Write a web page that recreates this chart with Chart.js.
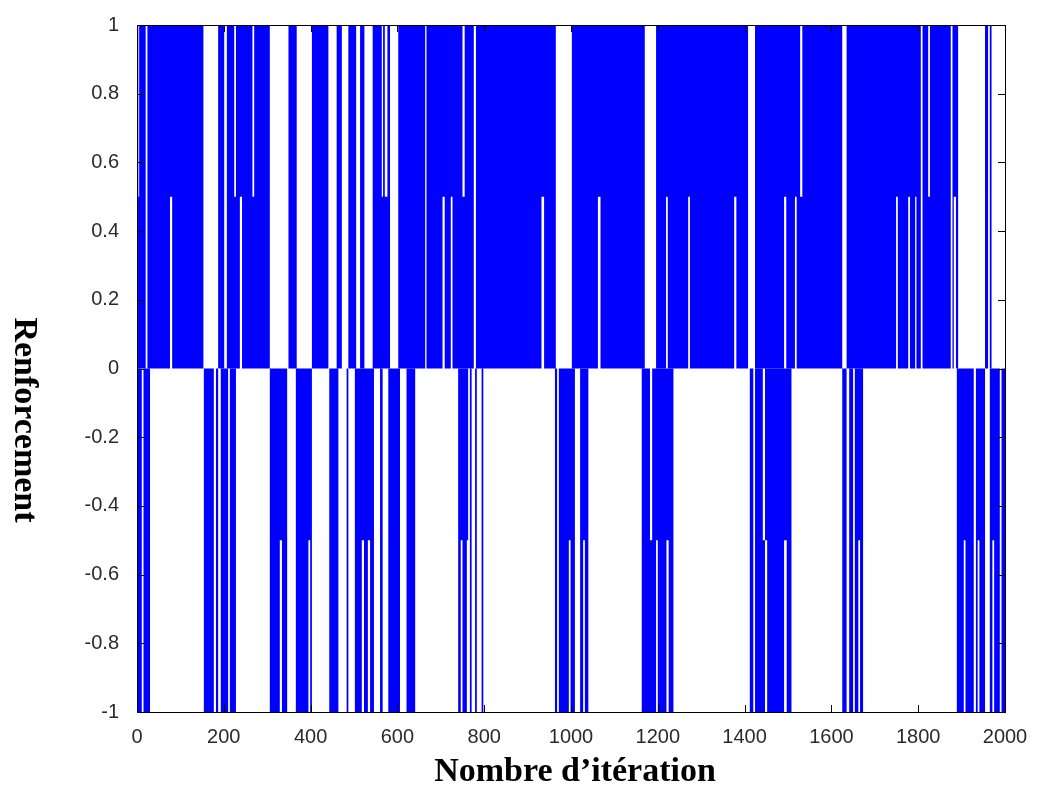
<!DOCTYPE html>
<html>
<head>
<meta charset="utf-8">
<script src="https://cdn.jsdelivr.net/npm/chart.js@4"></script>
<style>
  html, body { margin: 0; background: #fff; }
</style>
</head>
<body>
<canvas id="chart" width="1037" height="804"></canvas>
<script>
// partie haute (0 .. 1) : début de chaque palier, bord supérieur et inférieur de la zone bleue
const hautDebut = [0, 3, 5, 20, 24, 76, 81, 153, 187, 201, 207, 224, 228, 237, 242, 266, 270, 306, 349, 368,
  403, 441, 460, 472, 487, 505, 514, 524, 543, 564, 567, 571, 577, 583, 602, 664, 667, 704, 709, 723,
  727, 750, 755, 776, 781, 932, 938, 965, 1002, 1062, 1068, 1170, 1196, 1219, 1223, 1270, 1274, 1376, 1381, 1408,
  1424, 1491, 1496, 1516, 1520, 1528, 1533, 1625, 1635, 1749, 1753, 1777, 1781, 1793, 1796, 1806, 1810, 1823, 1827, 1875,
  1879, 1882, 1887, 1892, 1954, 1961, 1965, 1969]
const hautSup = [1, 0.5, 1, 0, 1, 1, 1, 0, 1, 0, 1, 0.5, 1, 1, 1, 0.5, 1, 0, 1, 0,
  1, 0, 1, 0, 1, 0, 1, 0, 1, 0.5, 1, 0.5, 1, 0, 1, 0, 1, 1, 1, 1,
  1, 0.5, 1, 0, 1, 1, 1, 0, 1, 1, 1, 0, 1, 1, 1, 1, 1, 1, 1, 0,
  1, 1, 1, 1, 1, 0.5, 1, 0, 1, 1, 1, 1, 1, 1, 1, 0, 1, 0.5, 1, 0,
  1, 1, 1, 0, 1, 0, 1, 0]
const hautInf = [0, 0, 0, 0, 0, 0.5, 0, 0, 0, 0, 0, 0, 0, 0.5, 0, 0, 0, 0, 0, 0,
  0, 0, 0, 0, 0, 0, 0, 0, 0, 0, 0, 0, 0, 0, 0, 0, 0, 0.5, 0, 0.5,
  0, 0, 0, 0, 0, 0.5, 0, 0, 0, 0.5, 0, 0, 0, 0.5, 0, 0.5, 0, 0.5, 0, 0,
  0, 0.5, 0, 0.5, 0, 0, 0, 0, 0, 0.5, 0, 0.5, 0, 0.5, 0, 0, 0, 0, 0, 0,
  0, 0.5, 0, 0, 0, 0, 0, 0]

// partie basse (0 .. -1)
const basDebut = [0, 11, 15, 30, 154, 177, 182, 187, 193, 210, 214, 228, 306, 329, 334, 346, 366, 395, 399, 403,
  443, 464, 483, 487, 502, 518, 523, 532, 537, 546, 560, 566, 579, 606, 621, 641, 740, 746, 750, 760,
  763, 767, 771, 779, 783, 794, 798, 963, 968, 972, 995, 999, 1009, 1021, 1028, 1032, 1040, 1163, 1182, 1187,
  1196, 1200, 1220, 1225, 1236, 1412, 1420, 1424, 1442, 1447, 1452, 1491, 1497, 1508, 1625, 1635, 1641, 1650, 1654, 1662,
  1666, 1673, 1889, 1905, 1909, 1928, 1933, 1937, 1941, 1954, 1965, 1971, 1975, 1988, 1992]
const basSup = [0, 0, 0, 0, 0, 0, 0, 0, 0, 0, 0, 0, 0, 0, 0, 0, 0, 0, 0, 0,
  0, 0, 0, 0, 0, 0, 0, 0, 0, 0, 0, 0, 0, 0, 0, 0, 0, 0, 0, 0,
  0, 0, 0, 0, 0, 0, 0, 0, 0, 0, 0, 0, 0, 0, 0, 0, 0, 0, -0.5, 0,
  0, 0, 0, 0, 0, 0, 0, 0, -0.5, 0, 0, 0, 0, 0, 0, 0, 0, 0, 0, 0,
  0, 0, 0, 0, 0, 0, 0, 0, 0, 0, 0, 0, 0, 0, 0]
const basInf = [-1, 0, -1, 0, -1, 0, -1, 0, -1, 0, -1, 0, -1, -0.5, -1, 0, -1, -0.5, -1, 0,
  -1, 0, -1, 0, -1, -0.5, -1, -0.5, -1, 0, -1, 0, -1, 0, -1, 0, -1, -0.5, -1, -0.5,
  0, -1, 0, -1, 0, -1, 0, -1, 0, -1, -0.5, -1, 0, -1, -0.5, -1, 0, -1, -1, -1,
  -0.5, -1, -0.5, -1, 0, -1, 0, -1, -1, -0.5, -1, -0.5, -1, 0, -1, 0, -1, 0, -1, -0.5,
  -1, 0, -1, -0.5, -1, 0, -1, -0.5, -1, 0, -1, -0.5, -1, 0, -1]

const xTicks = [0, 200, 400, 600, 800, 1000, 1200, 1400, 1600, 1800, 2000]
const yTicks = [-1, -0.8, -0.6, -0.4, -0.2, 0, 0.2, 0.4, 0.6, 0.8, 1]
const yTickLabels = ['-1', '-0.8', '-0.6', '-0.4', '-0.2', '0', '0.2', '0.4', '0.6', '0.8', '1']

const xMax = 2000

function paliers (debut, valeurs) {
  const pts = debut.map((x, i) => ({ x: x, y: valeurs[i] }))
  pts.push({ x: xMax, y: valeurs[valeurs.length - 1] })
  return pts
}

const bleu = '#0000ff'
const tickFont = { family: '"Liberation Sans", Arial, sans-serif', size: 20 }

function serie (data, fill) {
  return {
    data: data,
    stepped: true,
    fill: fill,
    backgroundColor: bleu,
    borderColor: 'transparent',
    borderWidth: 0,
    pointRadius: 0
  }
}

// cadre MATLAB : boîte, graduations vers l'intérieur, titres d'axes
const cadre = {
  id: 'cadre',
  afterDatasetsDraw (chart) {
    const { ctx, chartArea: a, scales: { x, y } } = chart
    ctx.save()
    ctx.strokeStyle = '#000'
    ctx.lineWidth = 1
    ctx.beginPath()
    xTicks.forEach(v => {
      const px = Math.round(x.getPixelForValue(v)) + 0.5
      ctx.moveTo(px, a.bottom); ctx.lineTo(px, a.bottom - 7)
      ctx.moveTo(px, a.top); ctx.lineTo(px, a.top + 7)
    })
    yTicks.forEach(v => {
      const py = Math.round(y.getPixelForValue(v)) + 0.5
      ctx.moveTo(a.left, py); ctx.lineTo(a.left + 7, py)
      ctx.moveTo(a.right, py); ctx.lineTo(a.right - 7, py)
    })
    ctx.stroke()
    ctx.strokeRect(Math.round(a.left) + 0.5, Math.round(a.top) + 0.5,
      Math.round(a.right - a.left), Math.round(a.bottom - a.top))

    ctx.fillStyle = '#000'
    ctx.font = 'bold 34px "Liberation Serif", "Times New Roman", serif'
    ctx.textAlign = 'center'
    ctx.textBaseline = 'middle'
    ctx.fillText('Nombre d\u2019itération', 575, 772)
    ctx.translate(24, 420)
    ctx.rotate(Math.PI / 2)
    ctx.fillText('Renforcement', 0, 0)
    ctx.restore()
  }
}

new Chart(document.getElementById('chart'), {
  type: 'line',
  data: {
    datasets: [
      serie(paliers(hautDebut, hautSup), '+1'),
      serie(paliers(hautDebut, hautInf), false),
      serie(paliers(basDebut, basSup), '+1'),
      serie(paliers(basDebut, basInf), false)
    ]
  },
  options: {
    responsive: false,
    animation: false,
    layout: { padding: { left: 0, right: 32, top: 25, bottom: 0 } },
    plugins: {
      legend: { display: false },
      tooltip: { enabled: false }
    },
    scales: {
      x: {
        type: 'linear',
        min: 0,
        max: xMax,
        afterBuildTicks: s => { s.ticks = xTicks.map(v => ({ value: v })) },
        afterFit: s => { s.height = 92 },
        grid: { display: false },
        border: { display: false },
        ticks: {
          autoSkip: false,
          maxRotation: 0,
          padding: 5,
          color: '#2a2a2a',
          font: tickFont,
          callback: v => String(v)
        }
      },
      y: {
        type: 'linear',
        min: -1,
        max: 1,
        afterBuildTicks: s => { s.ticks = yTicks.map(v => ({ value: v })) },
        afterFit: s => { s.width = 137 },
        grid: { display: false },
        border: { display: false },
        ticks: {
          padding: 10,
          color: '#2a2a2a',
          font: tickFont,
          callback: (v, i) => yTickLabels[i]
        }
      }
    }
  },
  plugins: [cadre]
})
</script>
</body>
</html>
